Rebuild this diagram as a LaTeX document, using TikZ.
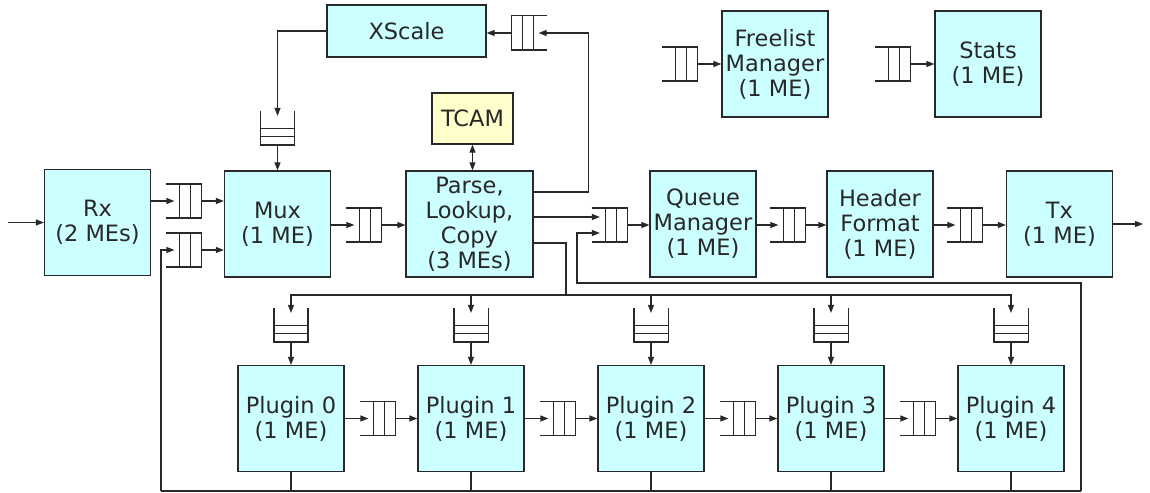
\documentclass[tikz,border=0pt]{standalone}
\usepackage{fontspec}
\setmainfont{DejaVu Sans}
\usetikzlibrary{arrows.meta,calc}
\definecolor{mecyan}{RGB}{204,255,255}
\definecolor{camyellow}{RGB}{255,255,204}
\definecolor{ink}{RGB}{40,40,40}
\begin{document}
\begin{tikzpicture}[x=0.02cm, y=-0.02cm, line width=0.7pt, color=ink, >={Triangle[length=1.6mm,width=1.2mm]},
	font=\fontsize{12.8}{14.2}\selectfont,
	me/.style={draw, fill=mecyan, minimum width=2.12cm, minimum height=2.12cm, inner sep=0pt, align=center},
	qe/.style={minimum width=0.52cm, minimum height=0.66cm, inner sep=0pt},
	qs/.style={minimum width=0.66cm, minimum height=0.56cm, inner sep=0pt}]
	\useasboundingbox (0,0) rectangle (1150,493);
	\node[me] (rx) at (97.5,222.5) {Rx\\(2 MEs)};
	\node[me] (mux) at (277.5,224) {Mux\\(1 ME)};
	\node[me, minimum width=2.54cm] (parse) at (469.5,224) {Parse,\\Lookup,\\Copy\\(3 MEs)};
	\node[me, minimum width=3.18cm, minimum height=1.04cm] (xscale) at (406.5,31) {XScale};
	\node[me, fill=camyellow, minimum width=1.62cm, minimum height=1.02cm] (tcam) at (472.5,118.5) {TCAM};
	\node[me] (qm) at (703,224) {Queue\\Manager\\(1 ME)};
	\node[me] (hf) at (880,224) {Header\\Format\\(1 ME)};
	\node[me] (tx) at (1059.5,224) {Tx\\(1 ME)};
	\node[me] (fl) at (775,64) {Freelist\\Manager\\(1 ME)};
	\node[me] (st) at (988,64) {Stats\\(1 ME)};
	\foreach \i in {0,...,4} {
		\node[me] (pl\i) at ({291+180*\i},418.5) {Plugin \i\\(1 ME)};
		\node[qs] (pq\i) at ({291+180*\i},327.5) {};
	}
	\foreach \i in {0,...,3}
		\node[qe] (hq\i) at ({382+180*\i},418.5) {};
	\node[qe] (qrx1) at (188,201) {};
	\node[qe] (qrx2) at (188,250) {};
	\node[qe] (qmux) at (368,225) {};
	\node[qe] (qqm) at (613.5,225) {};
	\node[qe] (qhf) at (792,225) {};
	\node[qe] (qtx) at (969,225) {};
	\node[qe] (qfl) at (684,64) {};
	\node[qe] (qst) at (897,64) {};
	\node[qe] (qxs) at (525,33) {};
	\node[qs] (qmt) at (277.5,130.5) {};
	\foreach \q in {qrx1,qrx2,qmux,qqm,qhf,qtx,qfl,qst,hq0,hq1,hq2,hq3}
		\draw ($(\q.north west)+(-8,0)$) -- (\q.north east) -- (\q.south east) -- ($(\q.south west)+(-8,0)$)
			($(\q.north east)!.4!(\q.north west)$) -- ($(\q.south east)!.4!(\q.south west)$)
			($(\q.north east)!.8!(\q.north west)$) -- ($(\q.south east)!.8!(\q.south west)$);
	\draw ($(qxs.north east)+(8,0)$) -- (qxs.north west) -- (qxs.south west) -- ($(qxs.south east)+(8,0)$)
		($(qxs.north west)!.4!(qxs.north east)$) -- ($(qxs.south west)!.4!(qxs.south east)$)
		($(qxs.north west)!.8!(qxs.north east)$) -- ($(qxs.south west)!.8!(qxs.south east)$);
	\foreach \q in {qmt,pq0,pq1,pq2,pq3,pq4}
		\draw ($(\q.north west)+(0,-5)$) -- (\q.south west) -- (\q.south east) -- ($(\q.north east)+(0,-5)$)
			($(\q.south west)!.3!(\q.north west)$) -- ($(\q.south east)!.3!(\q.north east)$)
			($(\q.south west)!.57!(\q.north west)$) -- ($(\q.south east)!.57!(\q.north east)$);
	\coordinate (in) at (8,222.5);
	\coordinate (out) at (1143,224);
	\coordinate (qm1) at ($(qqm.west)+(0,-8)$);
	\coordinate (qm2) at ($(qqm.west)+(0,8)$);
	\coordinate (split) at (566,295);
	\coordinate (bl) at (161,491);
	\coordinate (br) at (1081,491);
	\draw[->] (in) -- (rx.west);
	\draw[->] (rx.east |- qrx1) -- (qrx1.west);
	\draw[->] (qrx1.east) -- (mux.west |- qrx1);
	\draw[->] (qrx2.east) -- (mux.west |- qrx2);
	\draw[->] (mux.east |- qmux) -- (qmux.west);
	\draw[->] (qmux.east) -- (parse.west |- qmux);
	\draw[<->] (tcam.south) -- (tcam.south |- parse.north);
	\draw[->] ($(parse.east)+(0,-32)$) -| ($(qxs.east)+(50,0)$) -- (qxs.east);
	\draw[->] (qxs.west) -- (xscale.east |- qxs.west);
	\draw[->] (xscale.west) -| (qmt.north);
	\draw[->] (qmt.south) -- (mux.north);
	\draw[->] (parse.east |- qm1) -- (qm1);
	\draw[->] (qqm.east) -- (qm.west |- qqm);
	\draw[->] (qm.east |- qhf) -- (qhf.west);
	\draw[->] (qhf.east) -- (hf.west |- qhf);
	\draw[->] (hf.east |- qtx) -- (qtx.west);
	\draw[->] (qtx.east) -- (tx.west |- qtx);
	\draw[->] (tx.east) -- (out);
	\draw[->] (qfl.east) -- (fl.west);
	\draw[->] (qst.east) -- (st.west);
	\draw ($(parse.east)+(0,19)$) -| (split);
	\foreach \i in {0,...,4} {
		\draw[->] (split) -| (pq\i.north);
		\draw[->] (pq\i.south) -- (pl\i.north);
		\draw (pl\i.south) -- (pl\i.south |- bl);
	}
	\foreach \i [count=\j] in {0,...,3} {
		\draw[->] (pl\i.east |- hq\i) -- (hq\i.west);
		\draw[->] (hq\i.east) -- (pl\j.west |- hq\i);
	}
	\draw (bl) -- (br);
	\draw[->] (bl) |- (qrx2.west);
	\draw[->] (br) |- (577,283) |- (qm2);
\end{tikzpicture}
\end{document}
